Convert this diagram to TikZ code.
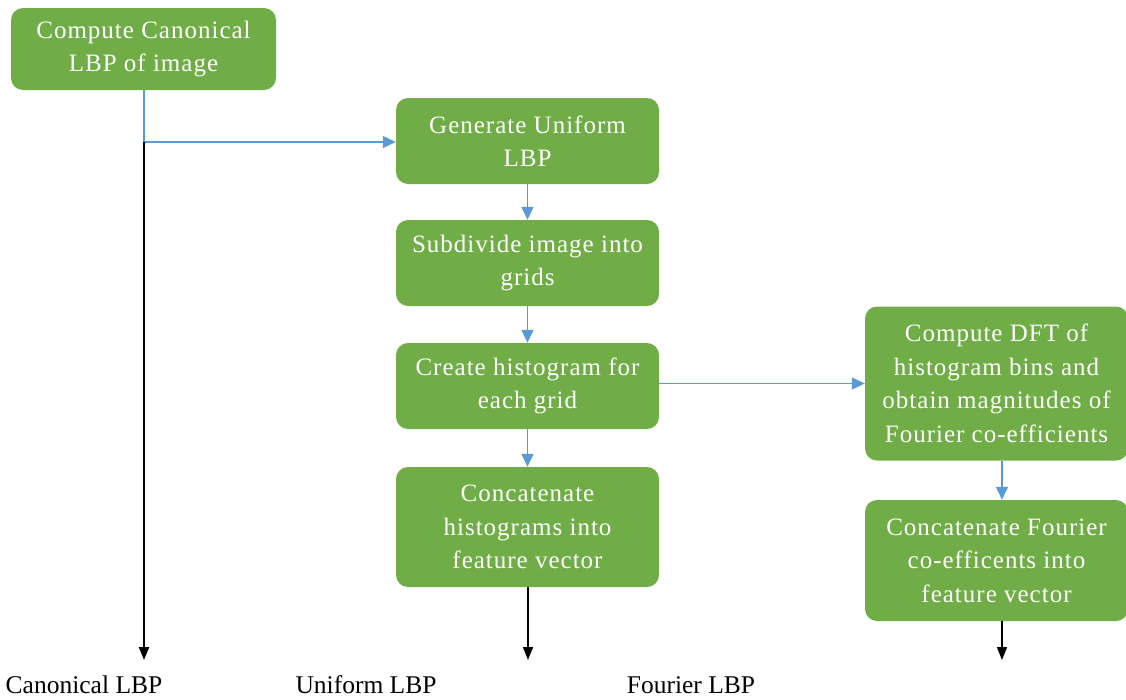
\documentclass[tikz,border=0pt]{standalone}
\usepackage{fontspec}
\setmainfont{Liberation Serif}
\newfontfamily\boxfont[LetterSpace=4]{Liberation Serif}
\usetikzlibrary{arrows.meta}
\definecolor{boxgreen}{HTML}{70AD47}
\definecolor{linkblue}{HTML}{5B9BD5}
\tikzset{
  procbox/.style={fill=boxgreen, draw=none, rounded corners=12pt, text=white,
    align=center, inner sep=0pt, minimum width=263pt,
    font=\boxfont\fontsize{25}{33.5}\selectfont},
  bluearrow/.style={draw=linkblue, line width=1.4pt, -{Triangle[length=13pt,width=12pt]}},
  bluelink/.style={draw=linkblue, line width=1.4pt},
  blackarrow/.style={draw=black, line width=1.6pt, -{Triangle[length=13pt,width=10pt]}},
  outlabel/.style={anchor=base, font=\fontsize{25.5}{30}\selectfont, inner sep=0pt}
}
\begin{document}
\begin{tikzpicture}[x=1pt, y=-1pt]
\useasboundingbox (0,0) rectangle (1126,699);
\node[procbox, minimum width=265pt, minimum height=82pt] (b1) at (143.5,49) {Compute Canonical\\LBP of image};
\node[procbox, minimum height=86pt] (b2) at (527.5,141) {Generate Uniform\\LBP};
\node[procbox, minimum height=86pt] (b3) at (527.5,263) {Subdivide image into\\grids};
\node[procbox, minimum height=86pt] (b4) at (527.5,386) {Create histogram for\\each grid};
\node[procbox, minimum height=120pt] (b5) at (527.5,527) {Concatenate\\histograms into\\feature vector};
\node[procbox, minimum height=154pt] (b6) at (996.5,383.5) {Compute DFT of\\histogram bins and\\obtain magnitudes of\\Fourier co-efficients};
\node[procbox, minimum height=121pt] (b7) at (996.5,560.5) {Concatenate Fourier\\co-efficents into\\feature vector};

\coordinate (j) at (144,142);
\coordinate (e1) at (144,660);
\coordinate (e2) at (528,660);
\coordinate (e3) at (1002,660);

\draw[bluelink] (b1.south -| j) -- (j);
\draw[bluearrow] (j) -- (b2.west |- j);
\draw[blackarrow, line width=2.2pt] (j) -- (e1);
\draw[bluearrow] (b2) -- (b3);
\draw[bluearrow] (b3) -- (b4);
\draw[bluearrow] (b4) -- (b5);
\draw[bluearrow] (b4.east |- b6.west) -- (b6.west);
\draw[bluearrow] (b6.south -| e3) -- (b7.north -| e3);
\draw[blackarrow, line width=1.4pt] (b5.south -| e2) -- (e2);
\draw[blackarrow, line width=1.4pt] (b7.south -| e3) -- (e3);

\node[outlabel] (l1) at (84,693) {Canonical LBP};
\node[outlabel] (l2) at (366,693) {Uniform LBP};
\node[outlabel] (l3) at (691,693) {Fourier LBP};
\end{tikzpicture}
\end{document}
